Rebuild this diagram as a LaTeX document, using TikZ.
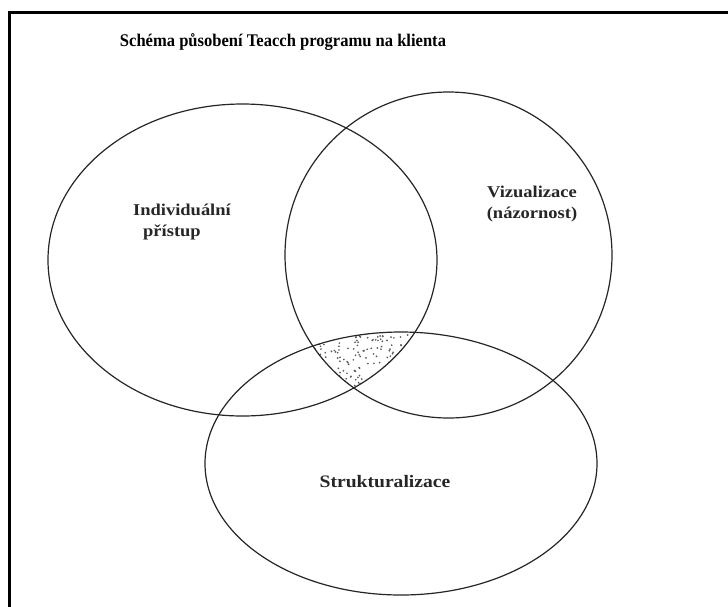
\documentclass[tikz,border=0pt]{standalone}
\usepackage{fontspec}
\setmainfont{Liberation Serif}
\newfontfamily\widefont[FakeStretch=1.12]{Liberation Serif}
\newfontfamily\narrowfont[FakeStretch=0.93]{Liberation Serif}
\begin{document}
\begin{tikzpicture}[x=1pt,y=-1pt,
  circ/.style={draw=black!85, line width=1.2pt},
  lbl/.style={font=\widefont\bfseries\fontsize{16.5}{21}\selectfont, text=black!85, inner sep=0pt},
  stip/.style={fill=black!65}]
\useasboundingbox (0,0) rectangle (728,606);
\fill[white] (0,0) rectangle (728,606);
\draw[line width=3pt, line cap=rect] (9.5,610) -- (9.5,12.5) -- (732,12.5);
% stippled triple intersection
\begin{scope}
  \clip (242.5,260) ellipse [x radius=194.5, y radius=156];
  \clip (448.5,255) ellipse [x radius=163.5, y radius=163];
  \clip (401,463.5) ellipse [x radius=196, y radius=131.5];
  \pgfmathsetseed{7}
  \foreach \i in {1,...,240} {
    \pgfmathsetmacro\px{308+114*rnd}
    \pgfmathsetmacro\py{326+66*rnd}
    \fill[stip] (\px,\py) circle[radius=0.95];
  }
\end{scope}
% circles
\draw[circ] (242.5,260) ellipse [x radius=194.5, y radius=156];
\draw[circ] (448.5,255) ellipse [x radius=163.5, y radius=163];
\draw[circ] (401,463.5) ellipse [x radius=196, y radius=131.5];
% texts
\node[font=\narrowfont\bfseries\fontsize{17.8}{20}\selectfont, inner sep=0pt] (title) at (283,42) {Schéma působení Teacch programu na klienta};
\node[lbl, align=left, anchor=north west] (indiv) at (133,204) {Individuální\\\hspace{10pt}přístup};
\node[lbl, align=center] (viz) at (532,204) {Vizualizace\\(názornost)};
\node[lbl, font=\widefont\bfseries\fontsize{17.5}{20}\selectfont] (strukt) at (385,482) {Strukturalizace};
\end{tikzpicture}
\end{document}
